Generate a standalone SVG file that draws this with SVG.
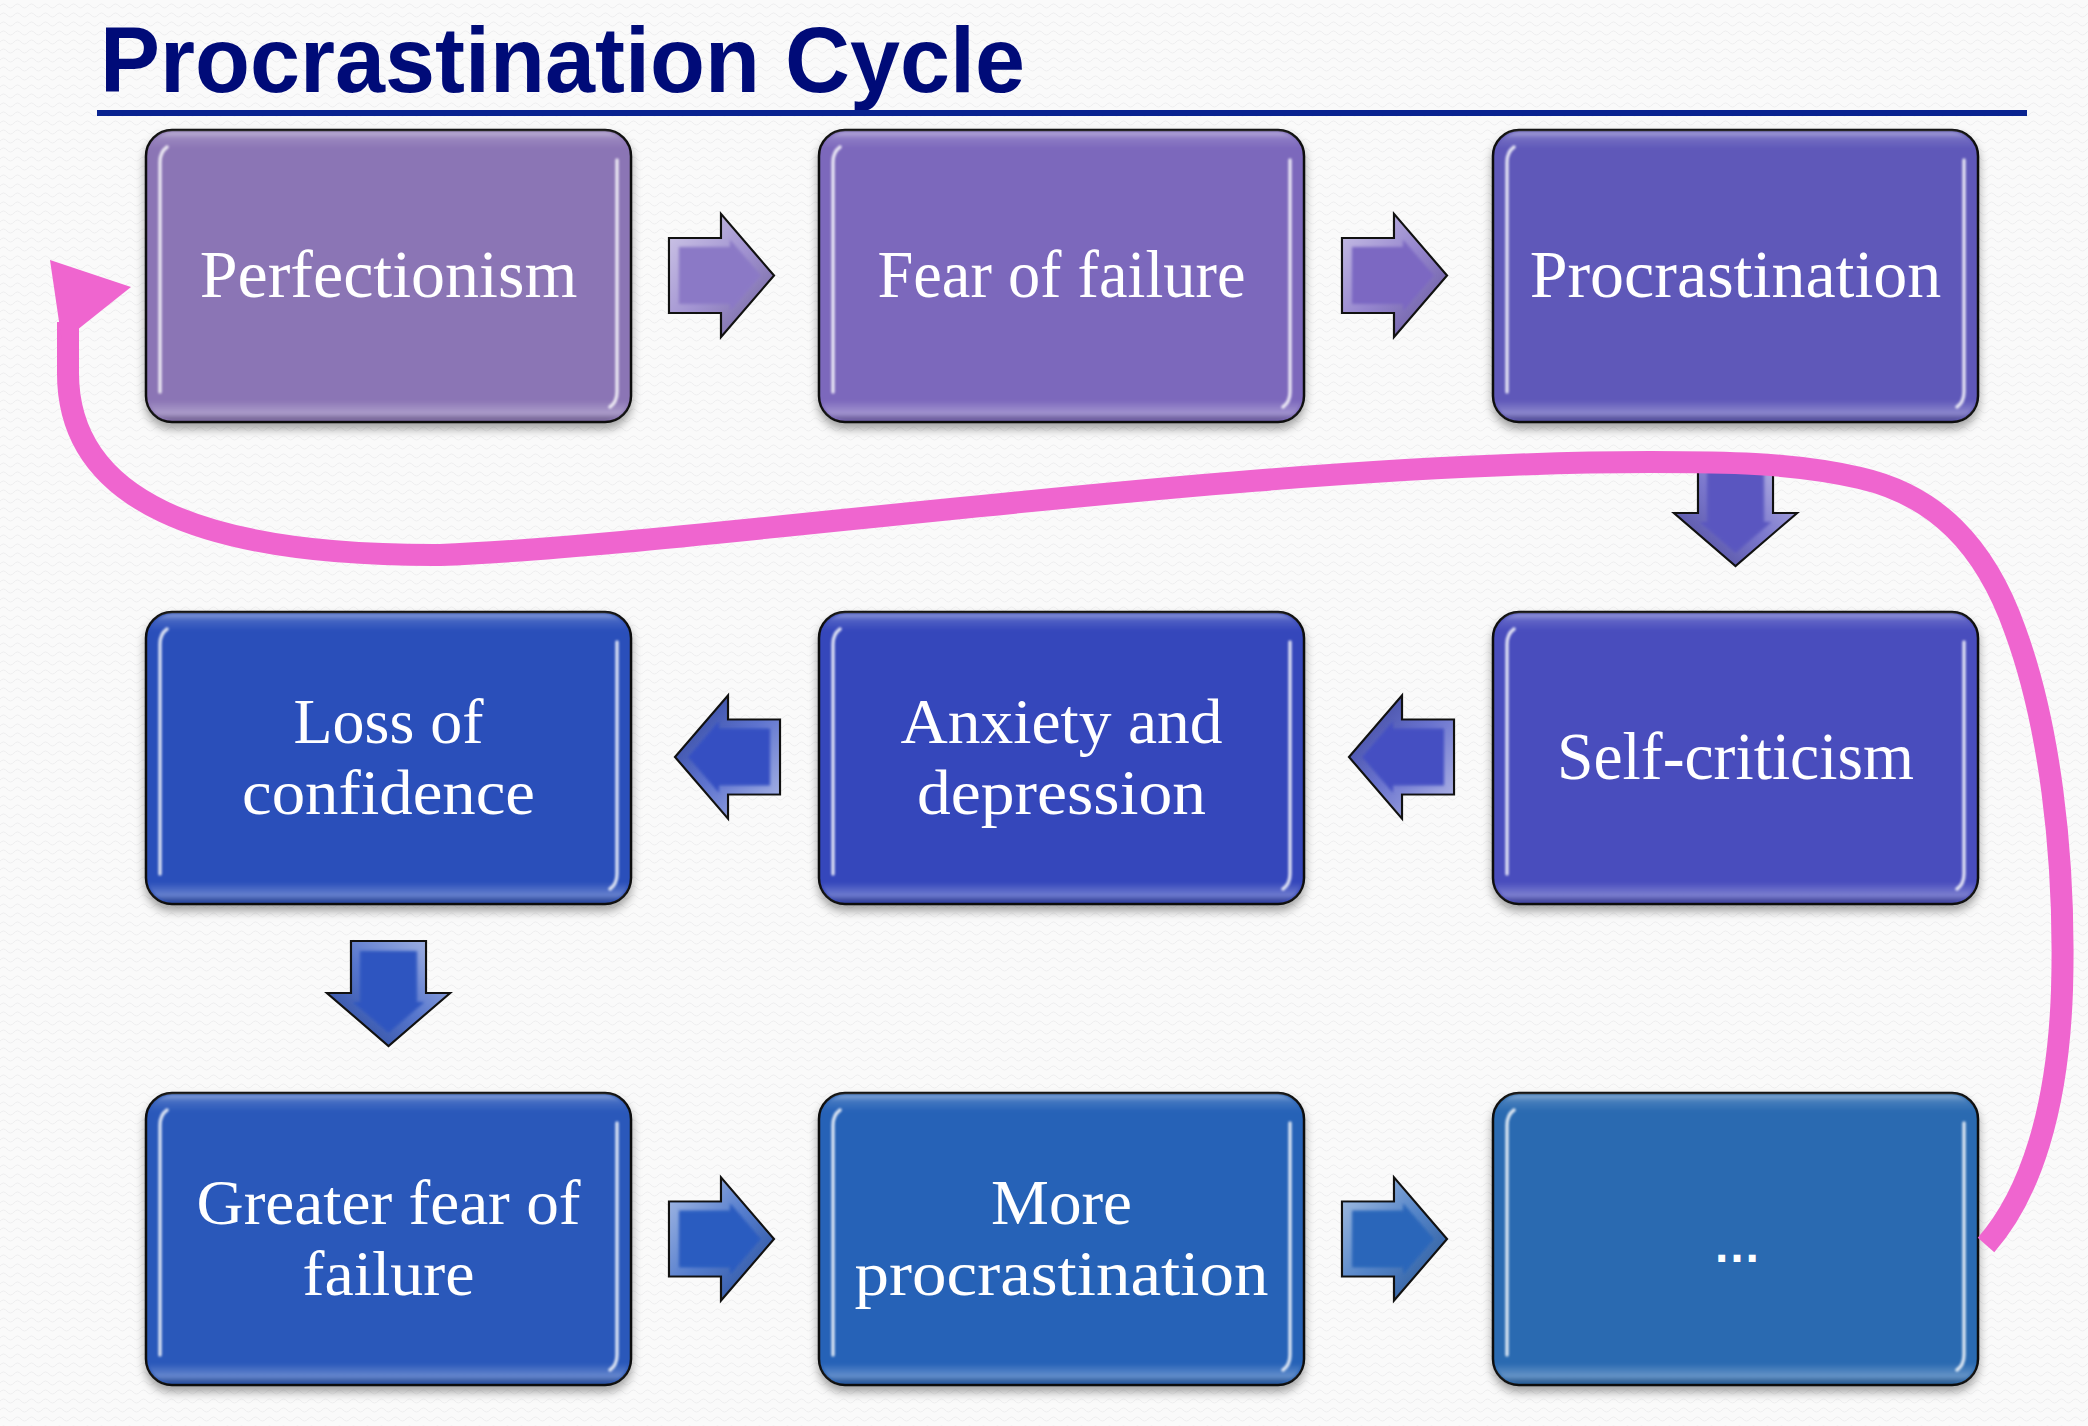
<svg xmlns="http://www.w3.org/2000/svg" xmlns:xlink="http://www.w3.org/1999/xlink" width="2088" height="1426" viewBox="0 0 2088 1426">
  <style>
    .title { font-family: "Liberation Sans", Arial, sans-serif; font-weight: bold; font-size: 92px; fill: #000B78; }
    .lbl { font-family: "Liberation Serif", "Times New Roman", serif; font-size: 68px; fill: #FFFFFF; text-anchor: middle; }
    .lbl2 { font-family: "Liberation Serif", "Times New Roman", serif; font-size: 64px; fill: #FFFFFF; text-anchor: middle; }
    .dots { font-family: "Liberation Sans", Arial, sans-serif; font-weight: bold; font-size: 48px; fill: #FFFFFF; text-anchor: middle; }
    .loop { fill: none; stroke: #EF65CF; stroke-width: 22; }
  </style>
  <defs>
    <!-- faint paper texture -->
    <pattern id="tex" width="14" height="9" patternUnits="userSpaceOnUse">
      <path d="M0,6 Q3.5,2 7,6 T14,6" fill="none" stroke="#EEEEEF" stroke-width="1"/>
    </pattern>
    <filter id="shadow" x="-10%" y="-10%" width="120%" height="130%">
      <feDropShadow dx="0" dy="6" stdDeviation="5" flood-color="#000" flood-opacity="0.35"/>
    </filter>
    <filter id="glow" x="-50%" y="-10%" width="200%" height="120%">
      <feGaussianBlur stdDeviation="1.1"/>
    </filter>
    <filter id="soft" x="-10%" y="-10%" width="120%" height="120%">
      <feGaussianBlur stdDeviation="1.5"/>
    </filter>
    <linearGradient id="rim" x1="0" y1="0" x2="0" y2="1">
      <stop offset="0" stop-color="#fff" stop-opacity="0.45"/>
      <stop offset="0.025" stop-color="#fff" stop-opacity="0.12"/>
      <stop offset="0.06" stop-color="#fff" stop-opacity="0"/>
      <stop offset="0.93" stop-color="#fff" stop-opacity="0"/>
      <stop offset="0.975" stop-color="#fff" stop-opacity="0.28"/>
      <stop offset="1" stop-color="#000" stop-opacity="0.25"/>
    </linearGradient>
    <linearGradient id="abev" x1="0" y1="0" x2="1" y2="1">
      <stop offset="0" stop-color="#fff" stop-opacity="0.6"/>
      <stop offset="0.5" stop-color="#fff" stop-opacity="0.2"/>
      <stop offset="1" stop-color="#000" stop-opacity="0.25"/>
    </linearGradient>

    <!-- glossy rounded box, 485 x 292, colour from currentColor -->
    <g id="box">
      <rect x="0" y="0" width="485" height="292" rx="26" fill="currentColor" stroke="#111" stroke-width="2.5" filter="url(#shadow)"/>
      <rect x="1.5" y="1.5" width="482" height="289" rx="25" fill="url(#rim)" filter="url(#soft)"/>
      <g fill="none" stroke="#fff" stroke-opacity="0.8" stroke-width="3.5" stroke-linecap="round" filter="url(#glow)">
        <path d="M14,262 V32 Q14,22 21,17"/>
        <path d="M471,30 V262 Q471,272 464,277"/>
      </g>
    </g>

    <!-- bevelled block arrow pointing right, origin at tail centre -->
    <g id="arrowR">
      <path d="M0,-37.5 H52 V-61.5 L105,0 L52,61.5 V37.5 H0 Z" fill="currentColor" stroke="#111" stroke-width="2.2" stroke-linejoin="miter"/>
      <path d="M1,-36.5 H53 V-59 L103.5,0 L53,59 V36.5 H1 Z" fill="url(#abev)"/>
      <path d="M10,-28.5 H61 V-36 L92,0 L61,36 V28.5 H10 Z" fill="currentColor" filter="url(#soft)"/>
    </g>
  </defs>

  <!-- background -->
  <rect x="0" y="0" width="2088" height="1426" fill="#FAFAFA"/>
  <rect x="0" y="0" width="2088" height="1426" fill="url(#tex)"/>

  <!-- heading -->
  <g id="heading">
    <text class="title" x="100" y="92" textLength="925" lengthAdjust="spacingAndGlyphs">Procrastination Cycle</text>
    <rect x="97" y="110" width="1930" height="6" fill="#0A2490"/>
  </g>

  <!-- nodes -->
  <g id="n-perfectionism">
    <use xlink:href="#box" href="#box" x="146" y="130" style="color:#8B74B5"/>
    <text class="lbl" x="388.5" y="297">Perfectionism</text>
  </g>
  <g id="n-fear-of-failure">
    <use xlink:href="#box" href="#box" x="819" y="130" style="color:#7B68BC"/>
    <text class="lbl" x="1061.5" y="297" textLength="368" lengthAdjust="spacingAndGlyphs">Fear of failure</text>
  </g>
  <g id="n-procrastination">
    <use xlink:href="#box" href="#box" x="1493" y="130" style="color:#5F58B9"/>
    <text class="lbl" x="1735.5" y="297">Procrastination</text>
  </g>
  <g id="n-self-criticism">
    <use xlink:href="#box" href="#box" x="1493" y="612" style="color:#4A4EBD"/>
    <text class="lbl" x="1735.5" y="779" textLength="357" lengthAdjust="spacingAndGlyphs">Self-criticism</text>
  </g>
  <g id="n-anxiety">
    <use xlink:href="#box" href="#box" x="819" y="612" style="color:#3547BB"/>
    <text class="lbl2"><tspan x="1061.5" y="743" textLength="322" lengthAdjust="spacingAndGlyphs">Anxiety and</tspan><tspan x="1061.5" y="814" textLength="289" lengthAdjust="spacingAndGlyphs">depression</tspan></text>
  </g>
  <g id="n-loss-of-confidence">
    <use xlink:href="#box" href="#box" x="146" y="612" style="color:#2C50BA"/>
    <text class="lbl2"><tspan x="388.5" y="743" textLength="190" lengthAdjust="spacingAndGlyphs">Loss of</tspan><tspan x="388.5" y="814" textLength="293" lengthAdjust="spacingAndGlyphs">confidence</tspan></text>
  </g>
  <g id="n-greater-fear">
    <use xlink:href="#box" href="#box" x="146" y="1093" style="color:#2A58BA"/>
    <text class="lbl2"><tspan x="388.5" y="1224" textLength="384" lengthAdjust="spacingAndGlyphs">Greater fear of</tspan><tspan x="388.5" y="1295" textLength="172" lengthAdjust="spacingAndGlyphs">failure</tspan></text>
  </g>
  <g id="n-more-procrastination">
    <use xlink:href="#box" href="#box" x="819" y="1093" style="color:#2862B7"/>
    <text class="lbl2"><tspan x="1061.5" y="1224" textLength="141" lengthAdjust="spacingAndGlyphs">More</tspan><tspan x="1061.5" y="1295" textLength="414" lengthAdjust="spacingAndGlyphs">procrastination</tspan></text>
  </g>
  <g id="n-ellipsis">
    <use xlink:href="#box" href="#box" x="1493" y="1093" style="color:#296BB1"/>
    <text class="dots" x="1737" y="1262">…</text>
  </g>

  <!-- connectors -->
  <g id="connectors">
    <use xlink:href="#arrowR" href="#arrowR" transform="translate(669,275.5)" style="color:#8B79C6"/>
    <use xlink:href="#arrowR" href="#arrowR" transform="translate(1342,275.5)" style="color:#7B68C2"/>
    <use xlink:href="#arrowR" href="#arrowR" transform="translate(1735.5,461) rotate(90)" style="color:#5A56C0"/>
    <use xlink:href="#arrowR" href="#arrowR" transform="translate(1454,757) rotate(180)" style="color:#4450C2"/>
    <use xlink:href="#arrowR" href="#arrowR" transform="translate(780,757) rotate(180)" style="color:#3550C2"/>
    <use xlink:href="#arrowR" href="#arrowR" transform="translate(388.5,941) rotate(90)" style="color:#2D54C0"/>
    <use xlink:href="#arrowR" href="#arrowR" transform="translate(669,1239)" style="color:#2A5CC0"/>
    <use xlink:href="#arrowR" href="#arrowR" transform="translate(1342,1239)" style="color:#2A66BA"/>

    <!-- return loop back to the start -->
    <path class="loop" d="M1986,1245 C2030,1195 2058,1110 2062,990 C2066,850 2048,720 2015,630 C1985,545 1935,495 1860,478 C1790,462 1720,462 1650,462 C1250,462 700,545 440,555 C200,556 66,500 68,370 L68,322"/>
    <polygon points="50,260 131,287 62,342" fill="#EF65CF"/>
  </g>
</svg>
